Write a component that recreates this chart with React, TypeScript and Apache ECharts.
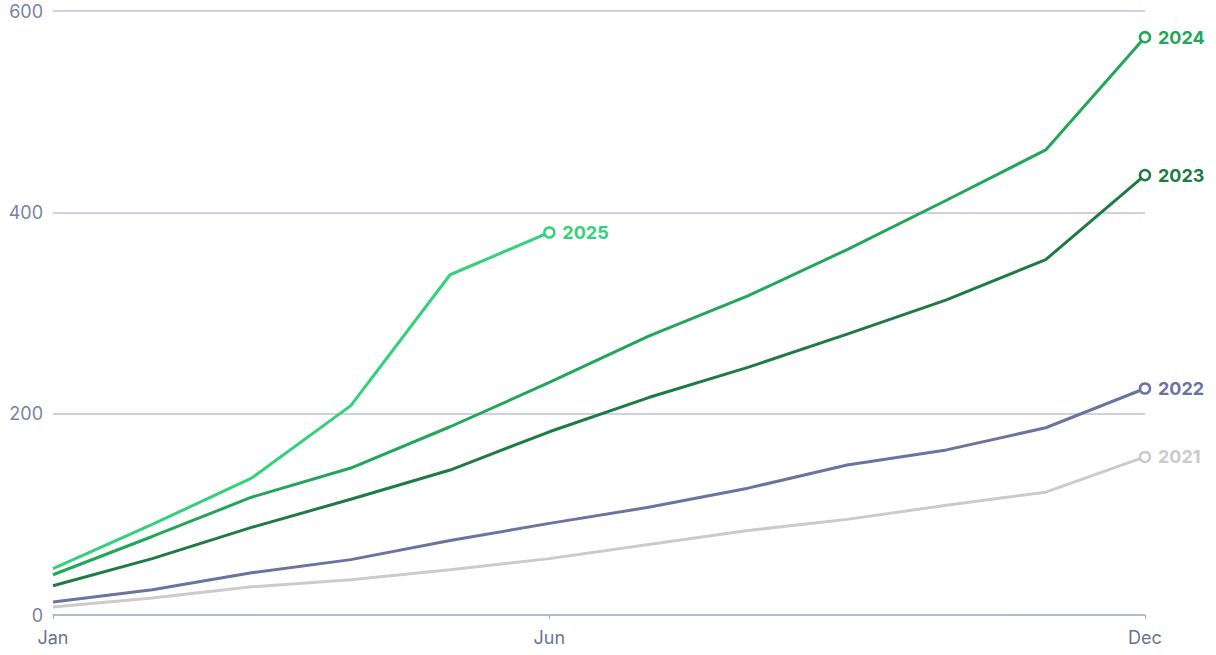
import React, { useEffect, useRef } from "react";
import * as echarts from "echarts";

const months = ["Jan", "Feb", "Mar", "Apr", "May", "Jun", "Jul", "Aug", "Sep", "Oct", "Nov", "Dec"];
const yTicks = [0, 200, 400, 600];

const s2021 = [8, 17, 28, 35, 45, 56, 70, 84, 95, 109, 122, 157];
const s2022 = [13, 25, 42, 55, 74, 91, 107, 126, 149, 164, 186, 225];
const s2023 = [29, 56, 87, 115, 144, 182, 216, 246, 279, 313, 353, 437];
const s2024 = [40, 78, 117, 146, 187, 231, 277, 317, 363, 412, 462, 574];
const s2025 = [46, 90, 136, 208, 338, 380];

const seriesDefs = [
  { name: "2021", data: s2021, color: "#cbcbcb" },
  { name: "2022", data: s2022, color: "#6b73a1" },
  { name: "2023", data: s2023, color: "#1e7b45" },
  { name: "2024", data: s2024, color: "#23a65a" },
  { name: "2025", data: s2025, color: "#33d17a" },
];

const shownMonths = [0, 5, 11];

export default function App() {
  const ref = useRef<HTMLDivElement>(null);
  useEffect(() => {
    if (!ref.current) return;
    const chart = echarts.init(ref.current, null, { renderer: "svg" });
    const font = "Inter, 'Noto Sans', sans-serif";
    chart.setOption({
      animation: false,
      backgroundColor: "#ffffff",
      grid: { left: 53, right: 71, top: 11, bottom: 40, containLabel: false },
      xAxis: {
        type: "category",
        data: months,
        boundaryGap: false,
        axisLine: { lineStyle: { color: "#aab1cc", width: 1.5 } },
        axisTick: {
          interval: (i: number) => shownMonths.includes(i),
          length: 4,
          lineStyle: { color: "#aab1cc" },
        },
        axisLabel: {
          interval: (i: number) => shownMonths.includes(i),
          color: "#6b7394",
          fontSize: 18,
          fontFamily: font,
          margin: 13,
        },
        splitLine: { show: false },
      },
      yAxis: {
        type: "value",
        min: yTicks[0],
        max: yTicks[yTicks.length - 1],
        interval: 200,
        axisLine: { show: false },
        axisTick: { show: false },
        axisLabel: { color: "#7a82a3", fontSize: 18, fontFamily: font, margin: 10 },
        splitLine: { lineStyle: { color: "#bcc2d9", width: 1.5 } },
      },
      series: seriesDefs.map((s) => ({
        name: s.name,
        type: "line",
        color: s.color,
        symbol: "circle",
        symbolSize: 10,
        showSymbol: true,
        data: s.data.map((v, i) =>
          i === s.data.length - 1 ? { value: v } : { value: v, symbol: "none" }
        ),
        lineStyle: { color: s.color, width: 3 },
        itemStyle: { color: "#ffffff", borderColor: s.color, borderWidth: 2.5 },
        endLabel: {
          show: true,
          formatter: s.name,
          color: s.color,
          fontSize: 18,
          fontWeight: "bold",
          fontFamily: font,
          distance: 13,
        },
        emphasis: { disabled: true },
        z: 2,
      })),
    });
    return () => chart.dispose();
  }, []);
  return (
    <div
      ref={ref}
      style={{ position: "fixed", left: 0, top: 0, width: 1216, height: 655 }}
    />
  );
}
